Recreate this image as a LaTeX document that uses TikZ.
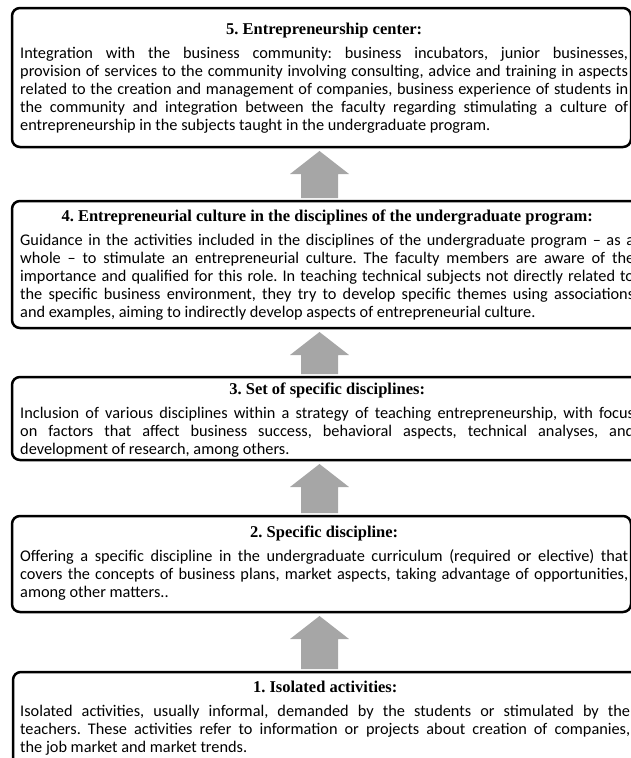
\documentclass[tikz,border=0pt]{standalone}
\usepackage{fontspec}
\setmainfont{Carlito}
\newfontfamily\headfont{Liberation Serif}
\usetikzlibrary{calc}
\definecolor{arrowgray}{HTML}{A6A6A6}
\hyphenpenalty=10000
\exhyphenpenalty=10000
\frenchspacing
\newcommand{\lvlhead}[1]{{\centering\headfont\bfseries\fontsize{16.5}{18}\selectfont #1\par}\vspace{6pt}}

\begin{document}
\begin{tikzpicture}[x=1pt,y=-1pt,
lvlbox/.style={draw,line width=2.5pt,rounded corners=8pt,anchor=north west,
inner sep=0pt,outer sep=0pt},
lvltext/.style={anchor=base west,inner sep=0pt,align=justify,
font=\fontsize{16.3}{18}\selectfont}]
\useasboundingbox (0,0) rectangle (630,758);
\coordinate (axis) at (319.5,0);
% the five levels, top to bottom
\node[lvlbox,minimum width=619pt,minimum height=139pt] (lvl5) at (12,8) {};
\node[lvlbox,minimum width=633pt,minimum height=127pt] (lvl4) at (12,201) {};
\node[lvlbox,minimum width=633pt,minimum height=83pt] (lvl3) at (12,377) {};
\node[lvlbox,minimum width=619pt,minimum height=96pt] (lvl2) at (12,516) {};
\node[lvlbox,minimum width=632pt,minimum height=103pt] (lvl1) at (13,672) {};
\node[lvltext,text width=608pt] (lvl5txt) at (20,34) {\lvlhead{5. Entrepreneurship center:}%
Integration with the business community: business incubators, junior businesses,\linebreak
provision of services to the community involving consulting, advice and training in aspects\linebreak
related to the creation and management of companies, business experience of students in\linebreak
the community and integration between the faculty regarding stimulating a culture of\linebreak
entrepreneurship in the subjects taught in the undergraduate program.};
\node[lvltext,text width=614pt] (lvl4txt) at (20,221) {\lvlhead{4. Entrepreneurial culture in the disciplines of the undergraduate program:}%
Guidance in the activities included in the disciplines of the undergraduate program -- as a\linebreak
whole -- to stimulate an entrepreneurial culture. The faculty members are aware of the\linebreak
importance and qualified for this role. In teaching technical subjects not directly related to\linebreak
the specific business environment, they try to develop specific themes using associations\linebreak
and examples, aiming to indirectly develop aspects of entrepreneurial culture.};
\node[lvltext,text width=614pt] (lvl3txt) at (20,394) {\lvlhead{3. Set of specific disciplines:}%
Inclusion of various disciplines within a strategy of teaching entrepreneurship, with focus\linebreak
on factors that affect business success, behavioral aspects, technical analyses, and\linebreak
development of research, among others.};
\node[lvltext,text width=608pt] (lvl2txt) at (20,537) {\lvlhead{2. Specific discipline:}%
Offering a specific discipline in the undergraduate curriculum (required or elective) that\linebreak
covers the concepts of business plans, market aspects, taking advantage of opportunities,\linebreak
among other matters..};
\node[lvltext,text width=610pt] (lvl1txt) at (20,692) {\lvlhead{1. Isolated activities:}%
Isolated activities, usually informal, demanded by the students or stimulated by the\linebreak
teachers. These activities refer to information or projects about creation of companies,\linebreak
the job market and market trends.};
% block arrows between levels
\foreach \lo/\hi in {lvl4/lvl5,lvl3/lvl4,lvl2/lvl3,lvl1/lvl2}
\fill[arrowgray] ($(axis |- \lo.north)+(-18.5,-3)$) -- ($(axis |- \lo.north)+(18.5,-3)$)
-- ($(axis |- \hi.south)+(18.5,27)$) -- ($(axis |- \hi.south)+(29.5,27)$)
-- ($(axis |- \hi.south)+(0,4)$) -- ($(axis |- \hi.south)+(-29.5,27)$)
-- ($(axis |- \hi.south)+(-18.5,27)$) -- cycle;
\end{tikzpicture}
\end{document}
